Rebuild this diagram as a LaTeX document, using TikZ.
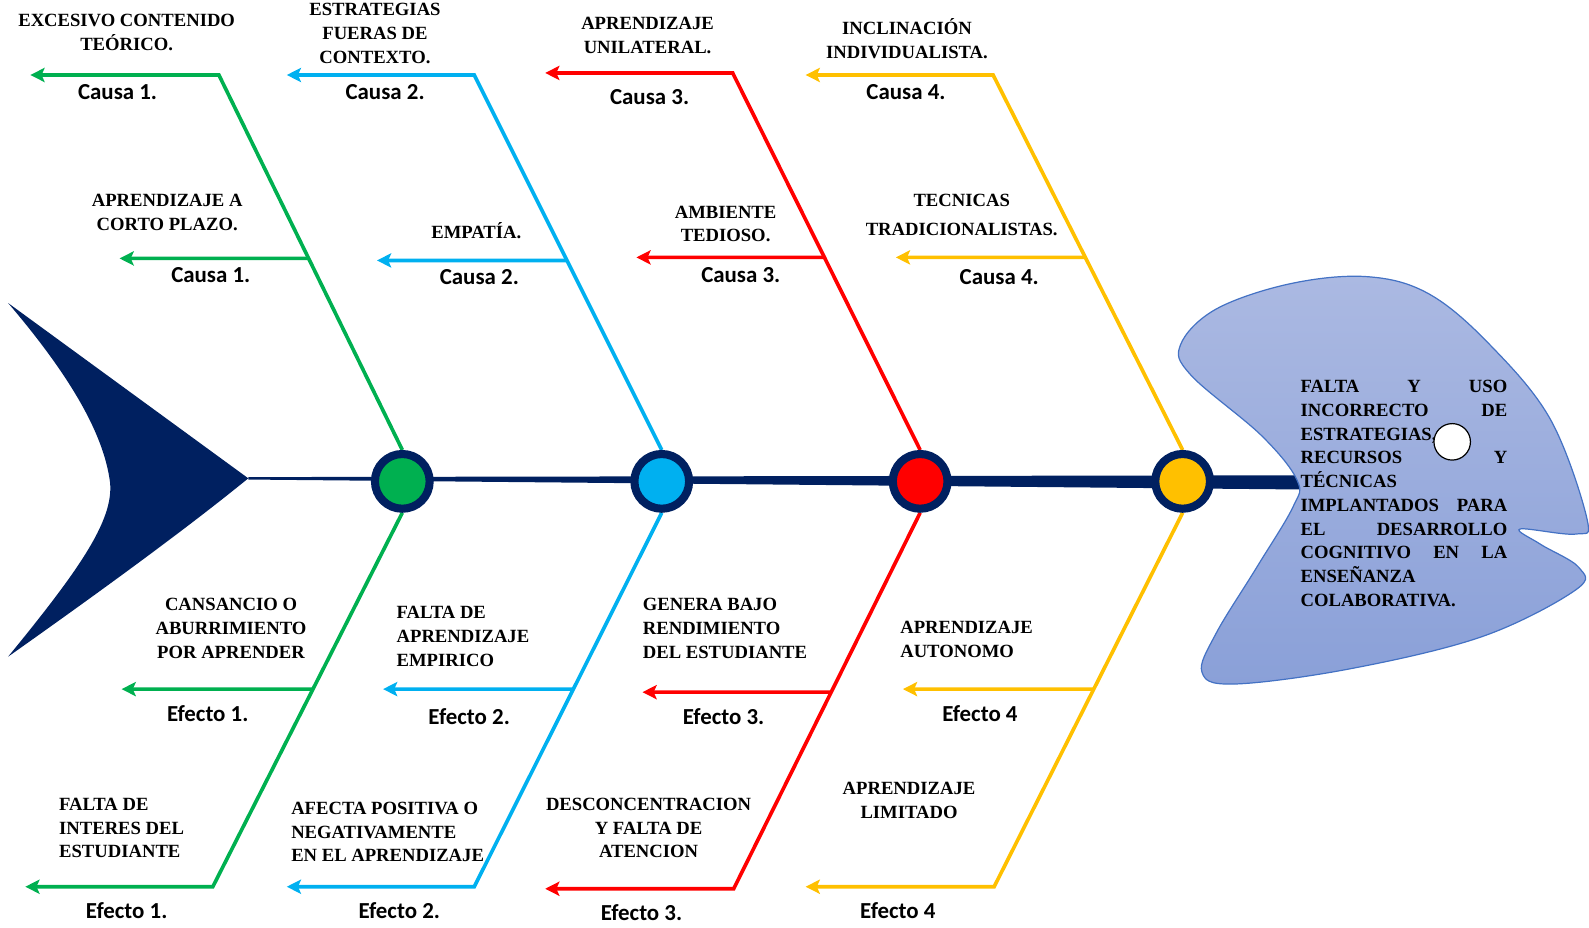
\documentclass[tikz,border=0pt]{standalone}
\usepackage{fontspec}
\setmainfont{Liberation Serif}
\newfontfamily\calibriFont{Carlito}
\usepackage{tikz}
\usetikzlibrary{calc,arrows.meta}
\definecolor{greenColor}{RGB}{0,176,80}
\definecolor{blueColor}{RGB}{0,176,240}
\definecolor{redColor}{RGB}{255,0,0}
\definecolor{yellowColor}{RGB}{255,192,0}
\definecolor{spineColor}{RGB}{0,32,96}
\definecolor{headTop}{RGB}{171,185,226}
\definecolor{headBottom}{RGB}{138,160,216}
\definecolor{headEdge}{RGB}{68,114,196}
\tikzstyle{fishbone} = [x = .5pt, y = -.5pt]
\tikzstyle{boneLine} = [line width = 1.8pt, -{Stealth[length = 7pt, width = 7pt, inset = 1.5pt]}]
\tikzstyle{jointStyle} = [circle, draw = spineColor, line width = 4pt, minimum size = 27pt, inner sep = 0pt]
\tikzstyle{labelText} = [font = \bfseries\fontsize{9.2}{11.7}\selectfont, align = center, inner sep = 0pt]
\tikzstyle{boneText} = [font = \calibriFont\bfseries\fontsize{11.3}{13}\selectfont, inner sep = 0pt]
\tikzstyle{headText} = [font = \bfseries\fontsize{9.2}{11.7}\selectfont, align = left, inner sep = 0pt]
\tikzstyle{headShape} = [draw = headEdge, line width = .6pt, top color = headTop, bottom color = headBottom]
\newcommand{\justifiedLine}[1]{\hbox to 102pt{#1}}
\newcommand{\jointSpot}[2]{
  \coordinate (#1Up) at (#2,444);
  \coordinate (#1Down) at (#2,506);
}
\newcommand{\upperBone}[6]{
  \pgfmathsetmacro{\midFactor}{(#5-#3)/(444-#3)}
  \coordinate (#1TopCorner) at (#2,#3);
  \coordinate (#1TopTip) at (#4,#3);
  \coordinate (#1MidJoin) at ($(#1TopCorner)!\midFactor!(#1Up)$);
  \coordinate (#1MidTip) at (#6,#5);
  \draw [boneLine, #1Color] (#1Up) -- (#1TopCorner) -- (#1TopTip);
  \draw [boneLine, #1Color] (#1MidJoin) -- (#1MidTip);
}
\newcommand{\lowerBone}[6]{
  \pgfmathsetmacro{\lowFactor}{(#5-#3)/(506-#3)}
  \coordinate (#1BotCorner) at (#2,#3);
  \coordinate (#1BotTip) at (#4,#3);
  \coordinate (#1LowJoin) at ($(#1BotCorner)!\lowFactor!(#1Down)$);
  \coordinate (#1LowTip) at (#6,#5);
  \draw [boneLine, #1Color] (#1Down) -- (#1BotCorner) -- (#1BotTip);
  \draw [boneLine, #1Color] (#1LowJoin) -- (#1LowTip);
}

\begin{document}
\begin{tikzpicture}[fishbone]
  \useasboundingbox (0,0) rectangle (1568,915);
  \coordinate (tailTip) at (245,472);
  \coordinate (headMouth) at (1282,476);

  % tail and spine
  \fill [spineColor] (tailTip) .. controls (180,525) and (90,590) .. (8,648)
    .. controls (80,560) and (115,510) .. (108,472)
    .. controls (100,420) and (60,360) .. (8,299) -- cycle;
  \fill [spineColor] ([yshift = .6pt] tailTip) -- ([yshift = 3.5pt] headMouth)
    -- ([yshift = -3.5pt] headMouth) -- ([yshift = -.6pt] tailTip) -- cycle;

  % bones
  \jointSpot{green}{397}
  \jointSpot{blue}{653}
  \jointSpot{red}{908}
  \jointSpot{yellow}{1167}
  \upperBone{green}{216}{74}{30}{255}{118}
  \lowerBone{green}{210}{875}{25}{680}{120}
  \upperBone{blue}{468}{74}{283}{257}{372}
  \lowerBone{blue}{468}{875}{283}{680}{378}
  \upperBone{red}{723}{72}{538}{254}{628}
  \lowerBone{red}{724}{877}{538}{683}{634}
  \upperBone{yellow}{980}{74}{795}{254}{884}
  \lowerBone{yellow}{981}{875}{795}{680}{891}
  \foreach \jointName/\jointX in {green/397, blue/653, red/908, yellow/1167}
    \node [jointStyle, fill = \jointName Color] (\jointName Circle) at (\jointX,475) {};

  % head
  \path [headShape] plot [smooth cycle, tension = .6] coordinates {
    (1280,474) (1245,430) (1175,370) (1165,340) (1200,305) (1273,280) (1349,273)
    (1410,290) (1470,340) (1530,414) (1566,512) (1555,527) (1500,522) (1520,537)
    (1558,560) (1555,582) (1463,628) (1332,660) (1217,675) (1186,663) (1200,625)
    (1240,560) (1276,500)};
  \node [headText, anchor = west] (effectText) at (1283,487) {\justifiedLine{FALTA\hfill Y\hfill USO}\\
    \justifiedLine{INCORRECTO\hfill DE}\\ESTRATEGIAS,\\\justifiedLine{RECURSOS\hfill Y}\\TÉCNICAS\\
    \justifiedLine{IMPLANTADOS\hfill PARA}\\\justifiedLine{EL\hfill DESARROLLO}\\
    \justifiedLine{COGNITIVO\hfill EN\hfill LA}\\ENSEÑANZA\\COLABORATIVA.};
  \node [circle, draw, fill = white, line width = .6pt, minimum size = 18pt, inner sep = 0pt] (headDot) at (1433,436) {};

  % green texts
  \node [labelText] (greenTopText) at (125,32) {EXCESIVO CONTENIDO\\TEÓRICO.};
  \node [boneText] (greenTopCause) at (116,91) {Causa 1.};
  \node [labelText] (greenMidText) at (165,210) {APRENDIZAJE A\\CORTO PLAZO.};
  \node [boneText] (greenMidCause) at (208,271) {Causa 1.};
  \node [labelText] (greenLowText) at (228,620) {CANSANCIO O\\ABURRIMIENTO\\POR APRENDER};
  \node [boneText] (greenLowEffect) at (205,704) {Efecto 1.};
  \node [labelText, align = left, anchor = west] (greenBotText) at (58,817) {FALTA DE\\INTERES DEL\\ESTUDIANTE};
  \node [boneText] (greenBotEffect) at (125,899) {Efecto 1.};

  % blue texts
  \node [labelText] (blueTopText) at (370,33) {ESTRATEGIAS\\FUERAS DE\\CONTEXTO.};
  \node [boneText] (blueTopCause) at (380,91) {Causa 2.};
  \node [labelText] (blueMidText) at (470,228) {EMPATÍA.};
  \node [boneText] (blueMidCause) at (473,273) {Causa 2.};
  \node [labelText, align = left, anchor = west] (blueLowText) at (391,628) {FALTA DE\\APRENDIZAJE\\EMPIRICO};
  \node [boneText] (blueLowEffect) at (463,707) {Efecto 2.};
  \node [labelText, align = left, anchor = west] (blueBotText) at (287,821) {AFECTA POSITIVA O\\NEGATIVAMENTE\\EN EL APRENDIZAJE};
  \node [boneText] (blueBotEffect) at (394,899) {Efecto 2.};

  % red texts
  \node [labelText] (redTopText) at (639,35) {APRENDIZAJE\\UNILATERAL.};
  \node [boneText] (redTopCause) at (641,96) {Causa 3.};
  \node [labelText] (redMidText) at (716,221) {AMBIENTE\\TEDIOSO.};
  \node [boneText] (redMidCause) at (731,271) {Causa 3.};
  \node [labelText, align = left, anchor = west] (redLowText) at (634,620) {GENERA BAJO\\RENDIMIENTO\\DEL ESTUDIANTE};
  \node [boneText] (redLowEffect) at (714,707) {Efecto 3.};
  \node [labelText] (redBotText) at (640,817) {DESCONCENTRACION\\Y FALTA DE\\ATENCION};
  \node [boneText] (redBotEffect) at (633,901) {Efecto 3.};

  % yellow texts
  \node [labelText] (yellowTopText) at (895,38) {INCLINACIÓN\\INDIVIDUALISTA.};
  \node [boneText] (yellowTopCause) at (894,91) {Causa 4.};
  \node [labelText, font = \bfseries\fontsize{9.2}{14.5}\selectfont] (yellowMidText) at (949,212) {TECNICAS\\TRADICIONALISTAS.};
  \node [boneText] (yellowMidCause) at (986,273) {Causa 4.};
  \node [labelText, align = left, anchor = west] (yellowLowText) at (888,631) {APRENDIZAJE\\AUTONOMO};
  \node [boneText] (yellowLowEffect) at (967,704) {Efecto 4};
  \node [labelText] (yellowBotText) at (897,790) {APRENDIZAJE\\LIMITADO};
  \node [boneText] (yellowBotEffect) at (886,899) {Efecto 4};
\end{tikzpicture}
\end{document}
